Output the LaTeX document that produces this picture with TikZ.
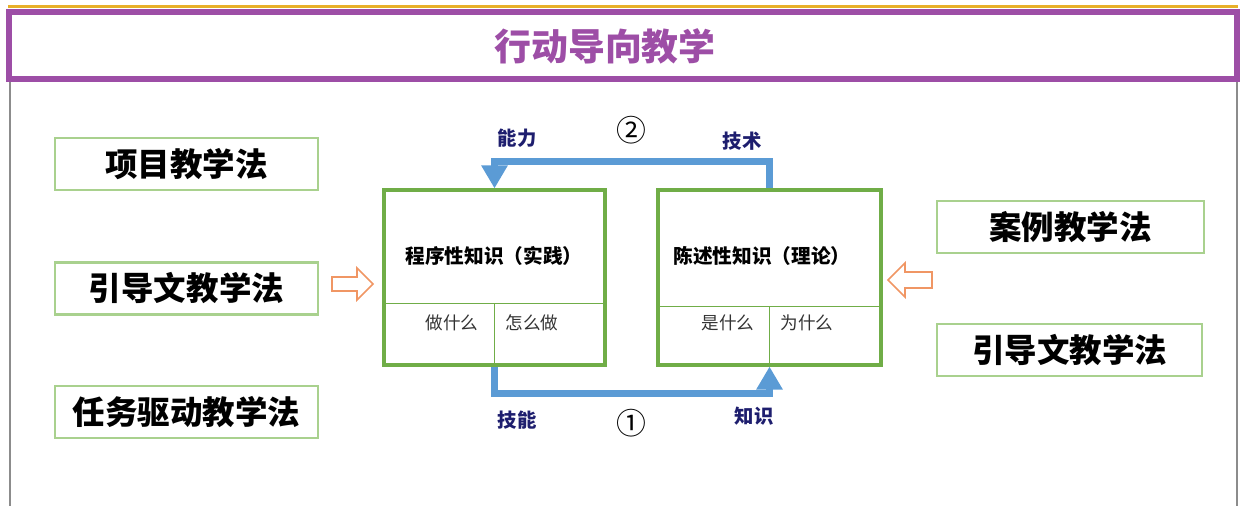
\documentclass[tikz,border=0pt]{standalone}
\usepackage{fontspec}
\setmainfont{Noto Sans CJK SC}
\usepackage{tikz}
\usetikzlibrary{positioning}
\usetikzlibrary{arrows.meta}
\usepackage{xcolor}
\definecolor{titlepurple}{RGB}{157,78,166}
\definecolor{goldline}{RGB}{232,176,40}
\definecolor{framegray}{RGB}{140,140,140}
\definecolor{lightgreen}{RGB}{169,209,142}
\definecolor{boxgreen}{RGB}{112,173,71}
\definecolor{flowblue}{RGB}{91,155,213}
\definecolor{labelnavy}{RGB}{30,30,110}
\definecolor{holloworange}{RGB}{240,150,100}

\begin{document}
\begin{tikzpicture}
[x=0.02cm, y=-0.02cm,
% The method style is used to draw the teaching methods
method/.style={rectangle, draw=lightgreen, line width=1.2pt, minimum height=1.04cm, inner sep=0pt, font=\bfseries\fontsize{18.5}{20}\selectfont},
% The knowledge style is used to draw the two kinds of knowledge
knowledge/.style={rectangle, draw=boxgreen, line width=1.8pt, minimum height=3.5cm, inner sep=0pt},
% The divider style is used to split the knowledge boxes
divider/.style={boxgreen, line width=0.8pt},
% The cell style is used to write the small questions
cell/.style={inner sep=0pt, text=black!80, font=\fontsize{10}{12}\selectfont},
% The flow style is used to draw the blue loop arrows
flow/.style={flowblue, line width=0.14cm, -{Triangle[width=0.5cm,length=0.46cm]}},
% The tag style is used to label the loop arrows
tag/.style={inner sep=0pt, text=labelnavy, font=\bfseries\fontsize{11}{12}\selectfont},
% The step number style is used to write the circled numbers
stepnum/.style={inner sep=0pt, font=\fontsize{17}{18}\selectfont},
% The hollow style is used to draw the outlined arrows
hollow/.style={draw=holloworange, line width=0.9pt, fill=white, line join=miter}
]
\useasboundingbox (0,0) rectangle (1243,506);
% Draw frame and title
\draw[framegray, line width=1.2pt] (10,82) -- (10,506) (1237,82) -- (1237,506);
\draw[goldline, line width=0.07cm] (8,6.5) -- (1238,6.5);
\node[rectangle, draw=titlepurple, line width=0.12cm, minimum width=24.56cm, minimum height=1.34cm, inner sep=0pt] (title) at (623,45.5) {};
\node[inner sep=0pt, text=titlepurple, font=\bfseries\fontsize{21}{22}\selectfont] (title-text) at (605,46) {行动导向教学};
% Draw methods
\node[method, minimum width=5.26cm] (m1) at (186.5,164) {项目教学法};
\node[method, minimum width=5.26cm] (m2) at (186.5,288.5) {引导文教学法};
\node[method, minimum width=5.26cm] (m3) at (186.5,412) {任务驱动教学法};
\node[method, minimum width=5.34cm] (m4) at (1070.5,227) {案例教学法};
\node[method, minimum width=5.30cm] (m5) at (1069.5,350) {引导文教学法};
% Draw knowledge boxes
\node[knowledge, minimum width=4.42cm] (pk) at (494.5,277.5) {};
\node[knowledge, minimum width=4.46cm] (dk) at (769.5,277.5) {};
\coordinate (pk-split) at ([yshift=-2.3cm]pk.north);
\coordinate (dk-split) at ([yshift=-2.36cm]dk.north);
\draw[divider] (pk-split -| pk.west) -- (pk-split -| pk.east) (pk-split) -- (pk.south);
\draw[divider] (dk-split -| dk.west) -- (dk-split -| dk.east) (dk-split) -- (dk.south);
\node[inner sep=0pt, font=\bfseries\fontsize{11.2}{12}\selectfont] (pk-title) at (494,256) {程序性知识（实践）};
\node[inner sep=0pt, font=\bfseries\fontsize{11.2}{12}\selectfont] (dk-title) at (762,256) {陈述性知识（理论）};
\node[cell] (c1) at (452,323) {做什么};
\node[cell] (c2) at (532,323) {怎么做};
\node[cell] (c3) at (728,323) {是什么};
\node[cell] (c4) at (807,323) {为什么};
% Draw loop arrows
\draw[flow] (dk.north) -- ++(0,-27) -| (pk.north);
\draw[flow] (pk.south) -- ++(0,27) -| (dk.south);
\node[tag] (t1) at (517,138) {能力};
\node[stepnum] (n2) at (631,130) {②};
\node[tag] (t2) at (742,141) {技术};
\node[tag] (t3) at (517,420) {技能};
\node[stepnum] (n1) at (631,423) {①};
\node[tag] (t4) at (754,416) {知识};
% Draw hollow arrows
\draw[hollow] (332,277) -- (357,277) -- (357,268) -- (373,284) -- (357,300) -- (357,291) -- (332,291) -- cycle;
\draw[hollow] (932,272) -- (905,272) -- (905,263) -- (888,280) -- (905,297) -- (905,288) -- (932,288) -- cycle;
\end{tikzpicture}
\end{document}
